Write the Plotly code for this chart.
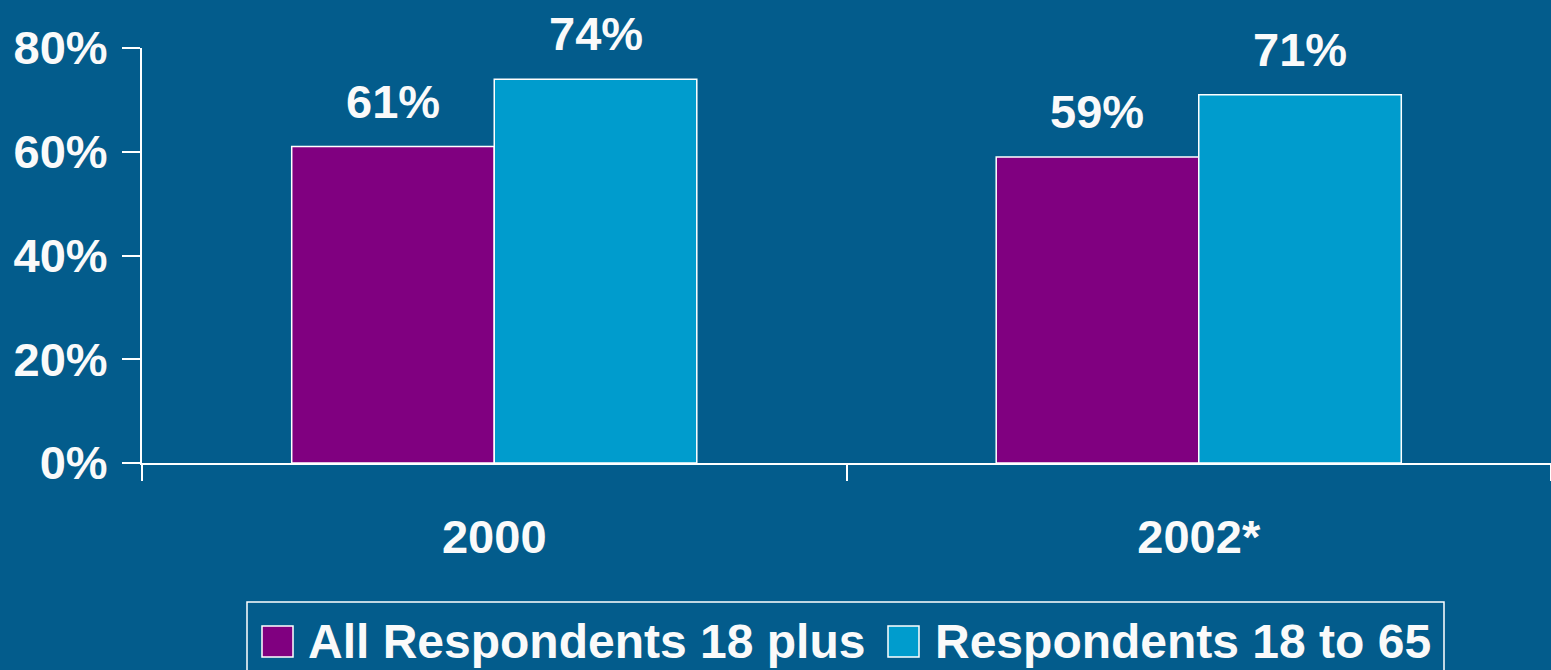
import plotly.graph_objects as go

years = ["2000", "2002*"]
all_18_plus = [61, 59]
resp_18_65 = [74, 71]
series_names = ["All Respondents 18 plus", "Respondents 18 to 65"]
y_tick_vals = [0, 20, 40, 60, 80]
y_tick_text = ["0%", "20%", "40%", "60%", "80%"]

BG = "#035C8C"
PURPLE = "#800080"
CYAN = "#009CCD"
WHITE = "#FAFAFA"
FONT = "Liberation Sans, Arial, sans-serif"
FS = 47
LFS = 48
BARGAP = 0.425

fig = go.Figure()
for name, vals, col in [(series_names[0], all_18_plus, PURPLE), (series_names[1], resp_18_65, CYAN)]:
    fig.add_trace(go.Bar(x=years, y=vals, name=name, marker=dict(color=col, line=dict(color="white", width=1.5)),
                         showlegend=False))

# data labels
half = (1 - BARGAP) / 4
for si, vals in enumerate([all_18_plus, resp_18_65]):
    for i, v in enumerate(vals):
        xpos = i - half if si == 0 else i + half
        fig.add_annotation(x=xpos, y=v, xref="x", yref="y", text=f"<b>{v}%</b>", showarrow=False,
                           yanchor="bottom", yshift=17, font=dict(family=FONT, size=FS, color=WHITE))

# manual legend
W, H = 1551, 670
L, R, T, B = 142, 0, 48, 207
pw, ph = W - L - R, H - T - B
def px(xp): return (xp - L) / pw
def py(yp): return (H - B - yp) / ph

fig.add_shape(type="rect", xref="paper", yref="paper", x0=px(247), x1=px(1444), y0=py(602), y1=py(680),
              line=dict(color="white", width=1.5), fillcolor="rgba(0,0,0,0)")
legend_items = [(series_names[0], PURPLE, 262, 306), (series_names[1], CYAN, 888, 933)]
for name, col, sx, tx in legend_items:
    fig.add_shape(type="rect", xref="paper", yref="paper", x0=px(sx), x1=px(sx + 31), y0=py(657), y1=py(626),
                  line=dict(color="white", width=1.5), fillcolor=col)
    fig.add_annotation(x=px(tx), y=py(641), xref="paper", yref="paper", text=f"<b>{name}</b>", showarrow=False,
                       xanchor="left", yanchor="middle", font=dict(family=FONT, size=LFS, color=WHITE))

fig.update_layout(
    width=W, height=H,
    paper_bgcolor=BG, plot_bgcolor=BG,
    margin=dict(l=L, r=R, t=T, b=B),
    barmode="group", bargap=BARGAP, bargroupgap=0,
    font=dict(family=FONT, size=FS, color=WHITE),
)
fig.update_xaxes(showline=True, linecolor="white", linewidth=2, ticks="outside", tickson="boundaries",
                 ticklen=16, tickwidth=2, tickcolor="white", showgrid=False, zeroline=False,
                 tickfont=dict(family=FONT, size=FS, color=WHITE, weight="bold"), ticklabelstandoff=32)
fig.update_yaxes(range=[0, 80], showline=True, linecolor="white", linewidth=2, ticks="outside",
                 ticklen=18, tickwidth=2, tickcolor="white", showgrid=False, zeroline=False,
                 tickvals=y_tick_vals, ticktext=[f"<b>{t}</b>" for t in y_tick_text],
                 tickfont=dict(family=FONT, size=FS, color=WHITE), ticklabelstandoff=5)

fig.write_html("out.html", config={"displayModeBar": False},
               post_script="document.body.style.margin='0';document.body.style.background='" + BG + "';")
